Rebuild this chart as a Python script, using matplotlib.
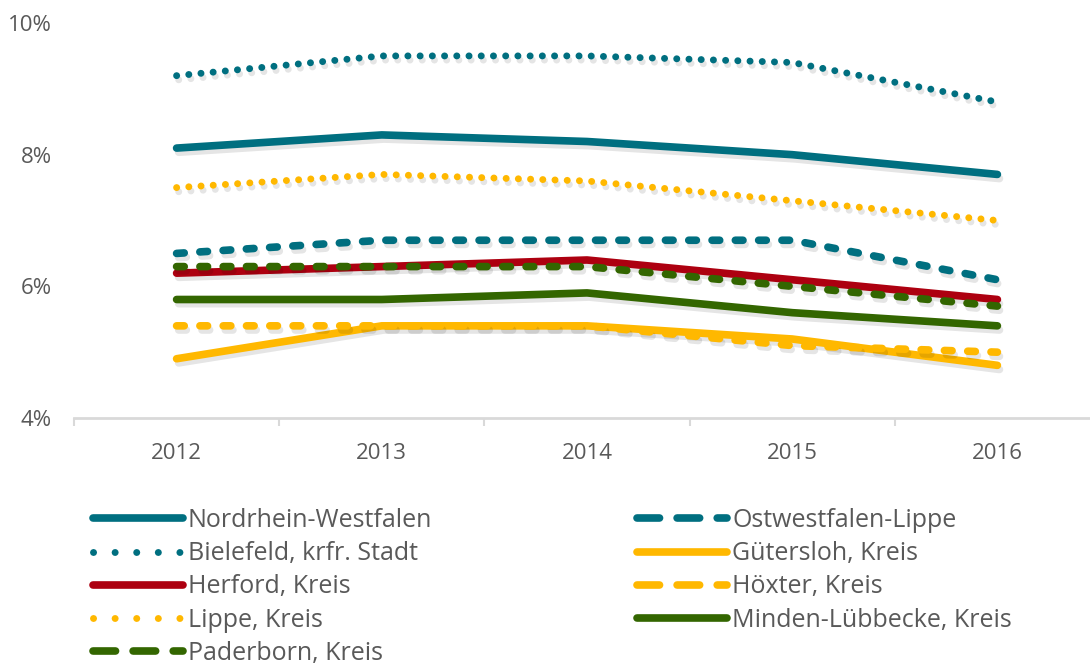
import matplotlib
matplotlib.use("Agg")
import matplotlib.pyplot as plt
import matplotlib.patheffects as pe
from matplotlib.ticker import FuncFormatter, FixedLocator

plt.rcParams["font.family"] = ["Open Sans", "DejaVu Sans"]

# Data (percent)
years = ["2012", "2013", "2014", "2015", "2016"]
nrw = [8.1, 8.3, 8.2, 8.0, 7.7]
owl = [6.5, 6.7, 6.7, 6.7, 6.1]
bielefeld = [9.2, 9.5, 9.5, 9.4, 8.8]
guetersloh = [4.9, 5.4, 5.4, 5.2, 4.8]
herford = [6.2, 6.3, 6.4, 6.1, 5.8]
hoexter = [5.4, 5.4, 5.4, 5.1, 5.0]
lippe = [7.5, 7.7, 7.6, 7.3, 7.0]
minden = [5.8, 5.8, 5.9, 5.6, 5.4]
paderborn = [6.3, 6.3, 6.3, 6.0, 5.7]

TEAL = "#006F80"
GOLD = "#FFB800"
RED = "#AD0010"
GREEN = "#336600"
TEXT = "#595959"

# (line style in plot, line width, line style in legend)
styles = {
    "solid": ("-", 5.5, "-"),
    "dotted": ((0, (0.01, 1.75)), 5.0, (0, (0.01, 3.1))),
    "dashed": ((0, (1.0, 2.05)), 5.5, (0, (2.95, 2.3))),
}

series = [
    ("Nordrhein-Westfalen", nrw, TEAL, "solid"),
    ("Bielefeld, krfr. Stadt", bielefeld, TEAL, "dotted"),
    ("Herford, Kreis", herford, RED, "solid"),
    ("Lippe, Kreis", lippe, GOLD, "dotted"),
    ("Paderborn, Kreis", paderborn, GREEN, "dashed"),
    ("Ostwestfalen-Lippe", owl, TEAL, "dashed"),
    ("Gütersloh, Kreis", guetersloh, GOLD, "solid"),
    ("Höxter, Kreis", hoexter, GOLD, "dashed"),
    ("Minden-Lübbecke, Kreis", minden, GREEN, "solid"),
]
# drawing order (back to front) as in the reference
draw_order = ["Bielefeld, krfr. Stadt", "Nordrhein-Westfalen", "Lippe, Kreis",
              "Ostwestfalen-Lippe", "Herford, Kreis", "Paderborn, Kreis",
              "Minden-Lübbecke, Kreis", "Gütersloh, Kreis", "Höxter, Kreis"]

fig = plt.figure(figsize=(10.9, 6.71), dpi=100)
ax = fig.add_axes([74 / 1090, 1 - 418 / 671, 1026 / 1090, 395 / 671])

shadow = [pe.SimpleLineShadow(offset=(1.5, -3), shadow_color="#000000", alpha=0.10),
          pe.Normal()]

x = list(range(len(years)))
handles = {}
for name in draw_order:
    label, values, color, style = next(s for s in series if s[0] == name)
    ls, lw, _ = styles[style]
    line, = ax.plot(x, values, color=color, linestyle=ls, linewidth=lw,
                    solid_capstyle="round", dash_capstyle="round",
                    solid_joinstyle="round", label=label, path_effects=shadow)
    handles[label] = line

ax.set_xlim(-0.5, len(years) - 0.5)
ax.set_ylim(4, 10)
ax.set_yticks([4, 6, 8, 10])
ax.yaxis.set_major_formatter(FuncFormatter(lambda v, p: f"{v:.0f}%"))
ax.set_xticks(x)
ax.set_xticklabels(years)
ax.xaxis.set_minor_locator(FixedLocator([i - 0.5 for i in range(len(years) + 1)]))
ax.tick_params(axis="x", which="major", length=0, pad=18, labelsize=16, colors=TEXT)
ax.tick_params(axis="x", which="minor", length=6, width=1.5, color="#D9D9D9")
ax.tick_params(axis="y", length=0, pad=16, labelsize=16, colors=TEXT)

for side in ["top", "right", "left"]:
    ax.spines[side].set_visible(False)
ax.spines["bottom"].set_color("#D9D9D9")
ax.spines["bottom"].set_linewidth(2)

col1 = [s[0] for s in series[:5]]
col2 = [s[0] for s in series[5:]]
legend_kw = dict(frameon=False, fontsize=18, handlelength=3.6, handletextpad=0.2,
                 labelspacing=0.33, borderpad=0, borderaxespad=0, labelcolor=TEXT,
                 loc="upper left")
leg1 = fig.legend([handles[n] for n in col1], col1,
                  bbox_to_anchor=(93 / 1090, 1 - 508 / 671), **legend_kw)
leg2 = fig.legend([handles[n] for n in col2], col2,
                  bbox_to_anchor=(637 / 1090, 1 - 508 / 671), **legend_kw)
style_of = {s[0]: s[3] for s in series}
for leg, names in ((leg1, col1), (leg2, col2)):
    for h, n in zip(leg.legend_handles, names):
        h.set_path_effects([])
        h.set_linestyle(styles[style_of[n]][2])

fig.savefig("out.png", dpi=100)
